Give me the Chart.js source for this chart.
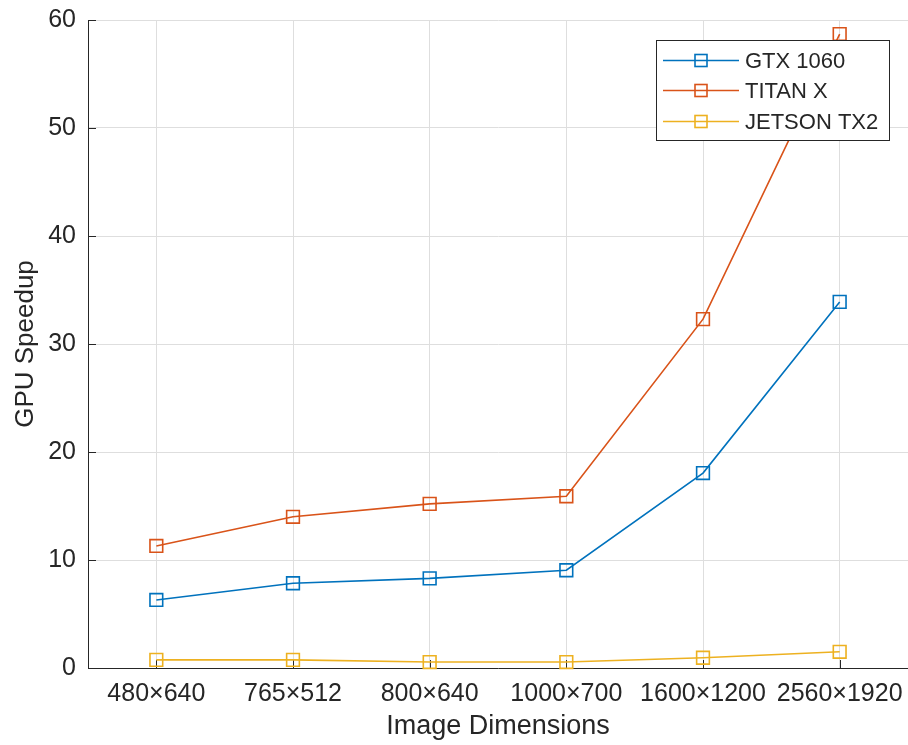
<!DOCTYPE html>
<html>
<head>
<meta charset="utf-8">
<script src="https://cdn.jsdelivr.net/npm/chart.js@4/dist/chart.umd.min.js"></script>
<style>
  html, body { margin: 0; padding: 0; background: #fff; }
  #wrap { width: 908px; height: 745px; position: relative; }
</style>
</head>
<body>
<div id="wrap"><canvas id="c" width="908" height="745"></canvas></div>
<script>
const categories = ['480×640', '765×512', '800×640', '1000×700', '1600×1200', '2560×1920'];
const gtx1060 = [6.3, 7.85, 8.3, 9.05, 18.05, 33.9];
const titanX = [11.3, 14.0, 15.2, 15.9, 32.3, 58.7];
const jetsonTX2 = [0.75, 0.75, 0.55, 0.55, 0.95, 1.5];
const seriesNames = ['GTX 1060', 'TITAN X', 'JETSON TX2'];
const seriesColors = ['#0072BD', '#D95319', '#EDB120'];
const yTicks = [0, 10, 20, 30, 40, 50, 60];

const FONT = '"Liberation Sans", Arial, Helvetica, sans-serif';
const TEXT = '#262626';

function ds(label, data, color) {
  return {
    label, data,
    borderColor: color,
    backgroundColor: 'rgba(0,0,0,0)',
    borderWidth: 1.6,
    pointStyle: 'rect',
    pointRadius: 9,
    pointHoverRadius: 9,
    pointBorderWidth: 1.6,
    pointBorderColor: color,
    pointBackgroundColor: 'rgba(0,0,0,0)',
    tension: 0,
    clip: false
  };
}

const innerTicks = {
  id: 'innerTicks',
  beforeDatasetsDraw(chart) {
    const ctx = chart.ctx, a = chart.chartArea;
    const xs = chart.scales.x, ys = chart.scales.y;
    ctx.save();
    ctx.strokeStyle = TEXT;
    ctx.lineWidth = 1;
    ctx.beginPath();
    for (let i = 0; i < categories.length; i++) {
      const x = Math.round(xs.getPixelForValue(i)) + 0.5;
      ctx.moveTo(x, a.bottom);
      ctx.lineTo(x, a.bottom - 8);
    }
    for (const v of yTicks) {
      const y = Math.round(ys.getPixelForValue(v)) + 0.5;
      ctx.moveTo(a.left, y);
      ctx.lineTo(a.left + 8, y);
    }
    ctx.stroke();
    ctx.restore();
  }
};

const boxLegend = {
  id: 'boxLegend',
  afterDraw(chart) {
    const ctx = chart.ctx;
    const x0 = 656, y0 = 40, w = 233, h = 100;
    ctx.save();
    ctx.fillStyle = '#ffffff';
    ctx.fillRect(x0, y0, w, h);
    ctx.strokeStyle = TEXT;
    ctx.lineWidth = 1;
    ctx.strokeRect(x0 + 0.5, y0 + 0.5, w, h);
    const rows = [60, 90, 121];
    chart.data.datasets.forEach((d, i) => {
      const y = rows[i] + 0.5;
      ctx.strokeStyle = d.borderColor;
      ctx.lineWidth = 1.6;
      ctx.beginPath();
      ctx.moveTo(663, y);
      ctx.lineTo(739, y);
      ctx.stroke();
      ctx.strokeRect(695, y - 6, 12, 12);
      ctx.fillStyle = TEXT;
      ctx.font = '22px ' + FONT;
      ctx.textBaseline = 'middle';
      ctx.textAlign = 'left';
      ctx.fillText(d.label, 745, y + 1);
    });
    ctx.restore();
  }
};

new Chart(document.getElementById('c'), {
  type: 'line',
  data: {
    labels: categories,
    datasets: [
      ds(seriesNames[0], gtx1060, seriesColors[0]),
      ds(seriesNames[1], titanX, seriesColors[1]),
      ds(seriesNames[2], jetsonTX2, seriesColors[2])
    ]
  },
  options: {
    responsive: false,
    animation: false,
    devicePixelRatio: 1,
    layout: { autoPadding: false, padding: { top: 20, right: 0, left: 0, bottom: 0 } },
    plugins: { legend: { display: false }, tooltip: { enabled: false } },
    scales: {
      x: {
        type: 'category',
        offset: true,
        grid: { color: '#dedede', lineWidth: 1, drawTicks: false, offset: false },
        border: { color: TEXT, width: 1 },
        ticks: { color: TEXT, font: { family: FONT, size: 25 }, padding: 11, maxRotation: 0, autoSkip: false },
        title: { display: true, text: 'Image Dimensions', color: TEXT, font: { family: FONT, size: 27 }, padding: { top: 0, bottom: 2 } },
        afterFit(s) { s.height = 77; s.paddingLeft = 0; s.paddingRight = 0; }
      },
      y: {
        min: 0, max: 60,
        afterBuildTicks(s) { s.ticks = yTicks.map(v => ({ value: v })); },
        grid: { color: '#dedede', lineWidth: 1, drawTicks: false },
        border: { color: TEXT, width: 1 },
        ticks: { color: TEXT, font: { family: FONT, size: 25 }, padding: 12 },
        title: { display: true, text: 'GPU Speedup', color: TEXT, font: { family: FONT, size: 26 }, padding: { top: 10, bottom: 0 } },
        afterFit(s) { s.width = 88; s.paddingTop = 0; s.paddingBottom = 0; }
      }
    }
  },
  plugins: [innerTicks, boxLegend]
});
</script>
</body>
</html>
